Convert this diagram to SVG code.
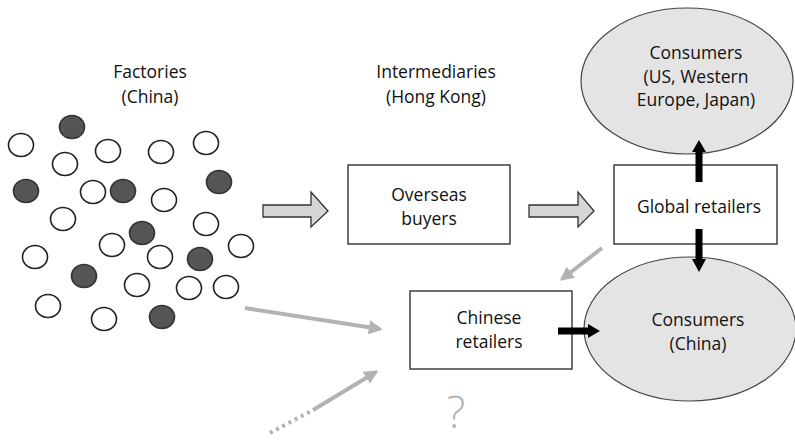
<svg xmlns="http://www.w3.org/2000/svg" width="795" height="440" viewBox="0 0 795 440">
<style>
text{font-family:"Open Sans","Liberation Sans",sans-serif;font-size:17.5px;fill:#111;text-anchor:middle}
.w{fill:#fff;stroke:#222;stroke-width:1.6}
.d{fill:#555;stroke:#333;stroke-width:1.6}
.box{fill:#fff;stroke:#333;stroke-width:1.4}
.ell{fill:#e4e4e4;stroke:#444;stroke-width:1.2}
.fat{fill:#d6d6d6;stroke:#333;stroke-width:1.3}
.gl{stroke:#b3b3b3;stroke-width:4;fill:none}
.bk{fill:#000}
</style>
<defs>
<marker id="ga" viewBox="0 0 10 10" refX="8" refY="5" markerWidth="3.5" markerHeight="3.5" orient="auto" markerUnits="strokeWidth">
<path d="M0,0 L10,5 L0,10 z" fill="#b3b3b3"/>
</marker>
</defs>
<g id="labels">
<text x="150" y="78">Factories</text>
<text x="150" y="103">(China)</text>
<text x="436" y="78">Intermediaries</text>
<text x="436" y="103">(Hong Kong)</text>
</g>
<g id="factories">
<ellipse class="d" cx="72" cy="127" rx="12.5" ry="11.5"/>
<ellipse class="w" cx="21" cy="145" rx="12.5" ry="11.5"/>
<ellipse class="w" cx="108" cy="151" rx="12.5" ry="11.5"/>
<ellipse class="w" cx="161" cy="152" rx="12.5" ry="11.5"/>
<ellipse class="w" cx="206" cy="143" rx="12.5" ry="11.5"/>
<ellipse class="w" cx="65" cy="164" rx="12.5" ry="11.5"/>
<ellipse class="d" cx="26" cy="191" rx="12.5" ry="11.5"/>
<ellipse class="w" cx="93" cy="192" rx="12.5" ry="11.5"/>
<ellipse class="d" cx="123" cy="191" rx="12.5" ry="11.5"/>
<ellipse class="d" cx="219" cy="182" rx="12.5" ry="11.5"/>
<ellipse class="w" cx="164" cy="200" rx="12.5" ry="11.5"/>
<ellipse class="w" cx="63" cy="219" rx="12.5" ry="11.5"/>
<ellipse class="d" cx="142" cy="233" rx="12.5" ry="11.5"/>
<ellipse class="w" cx="206" cy="224" rx="12.5" ry="11.5"/>
<ellipse class="w" cx="112" cy="245" rx="12.5" ry="11.5"/>
<ellipse class="w" cx="35" cy="257" rx="12.5" ry="11.5"/>
<ellipse class="w" cx="160" cy="257" rx="12.5" ry="11.5"/>
<ellipse class="d" cx="200" cy="259" rx="12.5" ry="11.5"/>
<ellipse class="w" cx="241" cy="246" rx="12.5" ry="11.5"/>
<ellipse class="d" cx="84" cy="276" rx="12.5" ry="11.5"/>
<ellipse class="w" cx="137" cy="285" rx="12.5" ry="11.5"/>
<ellipse class="w" cx="189" cy="288" rx="12.5" ry="11.5"/>
<ellipse class="w" cx="226" cy="287" rx="12.5" ry="11.5"/>
<ellipse class="w" cx="48" cy="306" rx="12.5" ry="11.5"/>
<ellipse class="w" cx="104" cy="319" rx="12.5" ry="11.5"/>
<ellipse class="d" cx="162" cy="317" rx="12.5" ry="11.5"/>
</g>
<g id="overseas-buyers">
<rect class="box" x="348" y="165" width="162" height="79"/>
<text x="429" y="201">Overseas</text>
<text x="429" y="225">buyers</text>
</g>
<g id="global-retailers">
<rect class="box" x="614" y="165" width="163" height="79"/>
<text x="699" y="213">Global retailers</text>
</g>
<g id="consumers-west">
<ellipse class="ell" cx="687" cy="81" rx="106" ry="73"/>
<text x="696" y="59">Consumers</text>
<text x="696" y="83">(US, Western</text>
<text x="696" y="106">Europe, Japan)</text>
</g>
<g id="consumers-china">
<ellipse class="ell" cx="690" cy="329" rx="106" ry="72"/>
<text x="698" y="326">Consumers</text>
<text x="698" y="350">(China)</text>
</g>
<g id="chinese-retailers">
<rect class="box" x="410" y="291" width="162" height="78"/>
<text x="489" y="324">Chinese</text>
<text x="489" y="348">retailers</text>
</g>
<g id="connectors">
<path class="fat" d="M263,205 H311 V192 L328,211 L311,227 V217 H263 Z"/>
<path class="fat" d="M529,205 H578 V192 L594,211 L578,227 V217 H529 Z"/>
<path class="bk" d="M695.5,182 V152 H692 L699,140 L706,152 H702.5 V182 Z"/>
<path class="bk" d="M695.5,229 V259 H692 L699,272 L706,259 H702.5 V229 Z"/>
<path class="bk" d="M558,327.5 H588 V324 L600,331 L588,338 V334.5 H558 Z"/>
<line class="gl" x1="245" y1="308" x2="380" y2="329" marker-end="url(#ga)"/>
<line class="gl" x1="313" y1="410" x2="376" y2="372" marker-end="url(#ga)"/>
<line class="gl" x1="270" y1="433" x2="313" y2="410" stroke-dasharray="3,4"/>
<line class="gl" x1="602" y1="248" x2="562" y2="279" marker-end="url(#ga)"/>
</g>
<text x="456" y="428" style="font-size:44px;font-weight:300;fill:#b3b3b3">?</text>
</svg>
